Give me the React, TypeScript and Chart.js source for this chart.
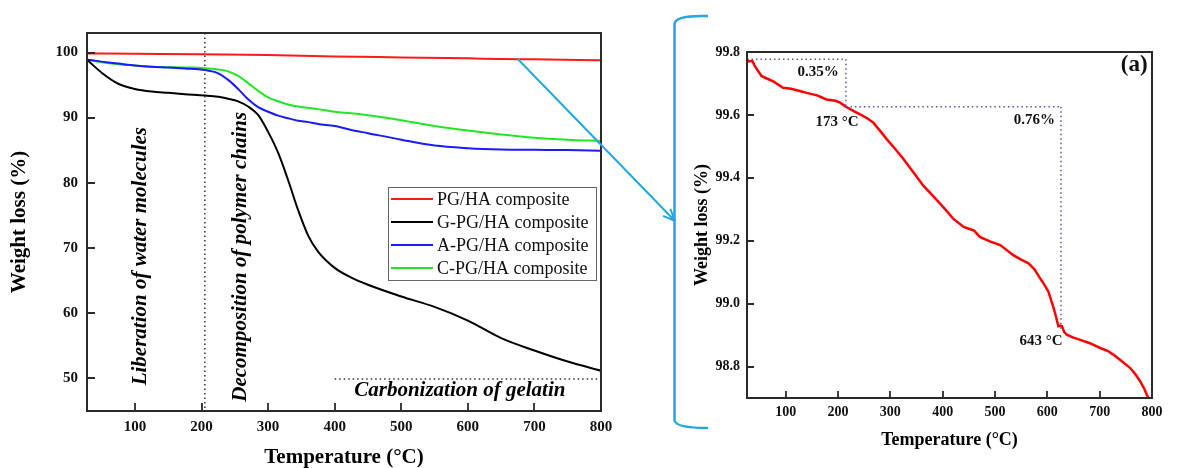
import React, { useEffect, useRef } from "react";
import { Chart, registerables } from "chart.js";
Chart.register(...registerables);

const SERIF = "'Liberation Serif', 'Times New Roman', serif";

// ---------- Left panel data ----------
const tempGrid = [28, 50, 75, 100, 125, 150, 175, 205, 225, 240, 255, 270, 285, 300, 315, 330, 345, 360, 375, 400, 425, 450, 500, 550, 600, 650, 700, 750, 800];
const gPgHa = [98.9, 96.9, 95.2, 94.4, 94.0, 93.8, 93.6, 93.4, 93.2, 92.9, 92.5, 91.7, 90.4, 87.8, 84.6, 80.4, 75.8, 71.9, 69.4, 66.9, 65.4, 64.3, 62.5, 60.9, 58.8, 56.1, 54.2, 52.5, 51.1];
const aPgHa = [98.9, 98.6, 98.3, 98.0, 97.8, 97.7, 97.55, 97.3, 96.8, 95.8, 94.4, 92.8, 91.6, 90.9, 90.3, 89.9, 89.5, 89.3, 89.0, 88.7, 88.1, 87.6, 86.6, 85.7, 85.3, 85.1, 85.05, 85.0, 84.9];
const cPgHa = [98.9, 98.5, 98.2, 98.0, 97.8, 97.75, 97.7, 97.6, 97.4, 97.1, 96.4, 95.3, 94.1, 93.1, 92.5, 92.0, 91.7, 91.5, 91.3, 90.9, 90.65, 90.35, 89.6, 88.7, 88.0, 87.4, 86.9, 86.6, 86.4];
const pgHaTemps = [28, 100, 200, 300, 400, 500, 600, 650, 700, 800];
const pgHa = [99.85, 99.8, 99.75, 99.6, 99.4, 99.25, 99.1, 99.0, 98.97, 98.8];

const leftTicksX = [100, 200, 300, 400, 500, 600, 700, 800];
const leftTicksY = [50, 60, 70, 80, 90, 100];

// ---------- Right panel data (inset a) ----------
const insetTemps = [26, 30, 36, 41, 54, 65, 76, 95, 110, 127, 140, 160, 178, 195, 204, 215, 230, 242, 255, 267, 280, 293, 310, 325, 345, 363, 380, 395, 410, 420, 440, 450, 460, 471, 490, 510, 535, 550, 564, 575, 586, 595, 602, 607, 612, 617, 621, 625, 628, 632, 637, 650, 663, 680, 701, 715, 726, 740, 758, 768, 777, 785, 790, 793];
const insetWeight = [99.775, 99.77, 99.772, 99.755, 99.723, 99.715, 99.707, 99.686, 99.683, 99.676, 99.67, 99.662, 99.649, 99.645, 99.639, 99.626, 99.612, 99.602, 99.59, 99.576, 99.55, 99.523, 99.49, 99.46, 99.415, 99.375, 99.345, 99.318, 99.29, 99.27, 99.244, 99.238, 99.232, 99.212, 99.198, 99.186, 99.154, 99.14, 99.128, 99.11, 99.081, 99.058, 99.038, 99.012, 98.986, 98.955, 98.928, 98.93, 98.928, 98.91, 98.901, 98.892, 98.885, 98.875, 98.859, 98.85, 98.838, 98.82, 98.796, 98.776, 98.754, 98.73, 98.711, 98.7];

const rightTicksX = [100, 200, 300, 400, 500, 600, 700, 800];
const rightTicksY = [98.8, 99.0, 99.2, 99.4, 99.6, 99.8];

const CYAN = "#22a7e0";
const FRAME = "#2a2a2a";
const DOT_BLUE = "#5858a4";

function drawFrameAndTicks(chart: any, tickLen: number) {
  const { ctx, chartArea: a, scales } = chart;
  ctx.save();
  ctx.strokeStyle = FRAME;
  ctx.lineWidth = 2;
  ctx.strokeRect(a.left, a.top, a.right - a.left, a.bottom - a.top);
  ctx.lineWidth = 1.8;
  ctx.beginPath();
  scales.x.ticks.forEach((t: any) => {
    const px = Math.round(scales.x.getPixelForValue(t.value));
    ctx.moveTo(px, a.bottom);
    ctx.lineTo(px, a.bottom - tickLen);
  });
  scales.y.ticks.forEach((t: any) => {
    const py = Math.round(scales.y.getPixelForValue(t.value));
    ctx.moveTo(a.left, py);
    ctx.lineTo(a.left + tickLen, py);
  });
  ctx.stroke();
  ctx.restore();
}

function dotted(ctx: any, x1: number, y1: number, x2: number, y2: number, color: string) {
  ctx.save();
  ctx.strokeStyle = color;
  ctx.lineWidth = 1.5;
  ctx.setLineDash([1.5, 3]);
  ctx.beginPath();
  ctx.moveTo(x1, y1);
  ctx.lineTo(x2, y2);
  ctx.stroke();
  ctx.restore();
}

function rotatedText(ctx: any, text: string, x: number, y: number, font: string) {
  ctx.save();
  ctx.translate(x, y);
  ctx.rotate(-Math.PI / 2);
  ctx.font = font;
  ctx.fillStyle = "#000";
  ctx.textAlign = "center";
  ctx.textBaseline = "middle";
  ctx.fillText(text, 0, 0);
  ctx.restore();
}

const leftDecor = {
  id: "leftDecor",
  afterDraw(chart: any) {
    const { ctx, chartArea: a, scales } = chart;
    const sx = scales.x, sy = scales.y;
    // region separators
    const vx = sx.getPixelForValue(205);
    dotted(ctx, vx, a.top, vx, a.bottom, "#333");
    const hy = sy.getPixelForValue(49.8);
    dotted(ctx, sx.getPixelForValue(400), hy, sx.getPixelForValue(800), hy, "#333");
    drawFrameAndTicks(chart, 8);
    // region labels
    const f = `italic bold 21px ${SERIF}`;
    rotatedText(ctx, "Liberation of water molecules", sx.getPixelForValue(109), sy.getPixelForValue(68.7), f);
    rotatedText(ctx, "Decomposition of polymer chains", sx.getPixelForValue(258), sy.getPixelForValue(68.6), f);
    ctx.save();
    ctx.font = f;
    ctx.fillStyle = "#000";
    ctx.textAlign = "center";
    ctx.textBaseline = "middle";
    ctx.fillText("Carbonization of gelatin", sx.getPixelForValue(588), sy.getPixelForValue(48.0));
    ctx.restore();
    // legend
    const box = { l: 388, t: 187, r: 596, b: 280 };
    ctx.save();
    ctx.fillStyle = "#fff";
    ctx.fillRect(box.l, box.t, box.r - box.l, box.b - box.t);
    ctx.strokeStyle = "#666";
    ctx.lineWidth = 1;
    ctx.strokeRect(box.l + 0.5, box.t + 0.5, box.r - box.l, box.b - box.t);
    ctx.font = `18px ${SERIF}`;
    ctx.textBaseline = "middle";
    ctx.textAlign = "left";
    chart.data.datasets.forEach((ds: any, i: number) => {
      const y = 199 + i * 23;
      ctx.strokeStyle = ds.borderColor;
      ctx.lineWidth = 2;
      ctx.beginPath();
      ctx.moveTo(391, y);
      ctx.lineTo(433, y);
      ctx.stroke();
      ctx.fillStyle = "#111";
      ctx.fillText(ds.label, 437, y + 1);
    });
    ctx.restore();
    // zoom arrow and bracket
    const x0 = sx.getPixelForValue(675), y0 = sy.getPixelForValue(99.0);
    const x1 = 675, y1 = 221;
    ctx.save();
    ctx.strokeStyle = CYAN;
    ctx.lineWidth = 2;
    ctx.beginPath();
    ctx.moveTo(x0, y0);
    ctx.lineTo(x1, y1);
    const ang = Math.atan2(y1 - y0, x1 - x0);
    const L = 13;
    ctx.moveTo(x1, y1);
    ctx.lineTo(x1 - L * Math.cos(ang - 0.4), y1 - L * Math.sin(ang - 0.4));
    ctx.moveTo(x1, y1);
    ctx.lineTo(x1 - L * Math.cos(ang + 0.4), y1 - L * Math.sin(ang + 0.4));
    ctx.stroke();
    ctx.lineWidth = 2.5;
    ctx.beginPath();
    ctx.moveTo(708, 16);
    ctx.quadraticCurveTo(675, 15, 674.5, 24);
    ctx.lineTo(674.5, 420);
    ctx.quadraticCurveTo(675, 428, 708, 428);
    ctx.stroke();
    ctx.restore();
  },
};

const rightDecor = {
  id: "rightDecor",
  afterDraw(chart: any) {
    const { ctx, scales } = chart;
    const sx = scales.x, sy = scales.y;
    const p = (t: number, w: number) => [sx.getPixelForValue(t), sy.getPixelForValue(w)];
    const [ax, ay] = p(26, 99.777);
    const [bx, by] = p(215, 99.626);
    const [cx, cy] = p(626, 98.92);
    dotted(ctx, ax, ay, bx, ay, DOT_BLUE);
    dotted(ctx, bx, ay, bx, by, DOT_BLUE);
    dotted(ctx, bx, by, cx, by, DOT_BLUE);
    dotted(ctx, cx, by, cx, cy, DOT_BLUE);
    drawFrameAndTicks(chart, 7);
    ctx.save();
    ctx.fillStyle = "#111";
    ctx.textAlign = "center";
    ctx.textBaseline = "middle";
    ctx.font = `bold 15px ${SERIF}`;
    const lab = (s: string, t: number, w: number) => {
      const [x, y] = p(t, w);
      ctx.fillText(s, x, y);
    };
    lab("0.35%", 162, 99.737);
    lab("173 °C", 198, 99.576);
    lab("0.76%", 575, 99.582);
    lab("643 °C", 588, 98.881);
    ctx.font = `bold 23px ${SERIF}`;
    lab("(a)", 766, 99.759);
    ctx.restore();
  },
};

export default function App() {
  const leftRef = useRef<HTMLCanvasElement>(null);
  const rightRef = useRef<HTMLCanvasElement>(null);

  useEffect(() => {
    const tickFont = { family: SERIF, size: 15, weight: "bold" as const };
    const line = (label: string, color: string, xs: number[], ys: number[]) => ({
      label,
      data: xs.map((x, i) => ({ x, y: ys[i] })),
      borderColor: color,
      backgroundColor: color,
      borderWidth: 2,
      pointRadius: 0,
      cubicInterpolationMode: "monotone" as const,
      fill: false,
    });
    const noGrid = { display: false, drawTicks: false, tickLength: 0 };

    const left = new Chart(leftRef.current!, {
      type: "line",
      data: {
        datasets: [
          line("PG/HA composite", "#ff1a1a", pgHaTemps, pgHa),
          line("G-PG/HA composite", "#000000", tempGrid, gPgHa),
          line("A-PG/HA composite", "#1a1aff", tempGrid, aPgHa),
          line("C-PG/HA composite", "#22e622", tempGrid, cPgHa),
        ],
      },
      options: {
        responsive: false,
        animation: false,
        events: [],
        layout: { padding: { top: 33, right: 119, bottom: 0, left: 0 } },
        plugins: { legend: { display: false }, tooltip: { enabled: false } },
        scales: {
          x: {
            type: "linear",
            min: 28,
            max: 800,
            grid: noGrid,
            border: { display: false },
            afterBuildTicks: (s: any) => { s.ticks = leftTicksX.map((v) => ({ value: v })); },
            afterFit: (s: any) => { s.height = 57; },
            ticks: { font: tickFont, color: "#111", padding: 7, maxRotation: 0 },
            title: { display: true, text: "Temperature (°C)", color: "#000", font: { family: SERIF, size: 21, weight: "bold", lineHeight: 1 }, padding: { top: 0, bottom: 0 } },
          },
          y: {
            min: 44.9,
            max: 103,
            grid: noGrid,
            border: { display: false },
            afterBuildTicks: (s: any) => { s.ticks = leftTicksY.map((v) => ({ value: v })); },
            afterFit: (s: any) => { s.width = 87; },
            ticks: { font: tickFont, color: "#111", padding: 9 },
            title: { display: true, text: "Weight loss (%)", color: "#000", font: { family: SERIF, size: 21, weight: "bold", lineHeight: 1 }, padding: { top: 9, bottom: 0 } },
          },
        },
      },
      plugins: [leftDecor],
    });

    const rTickFont = { family: SERIF, size: 14, weight: "bold" as const };
    const right = new Chart(rightRef.current!, {
      type: "line",
      data: {
        datasets: [{ ...line("PG/HA composite (a)", "#ff0000", insetTemps, insetWeight), borderWidth: 2.5, cubicInterpolationMode: "default" as any, tension: 0 }],
      },
      options: {
        responsive: false,
        animation: false,
        events: [],
        layout: { padding: { top: 52, right: 36, bottom: 0, left: 0 } },
        plugins: { legend: { display: false }, tooltip: { enabled: false } },
        scales: {
          x: {
            type: "linear",
            min: 26,
            max: 800,
            grid: noGrid,
            border: { display: false },
            afterBuildTicks: (s: any) => { s.ticks = rightTicksX.map((v) => ({ value: v })); },
            afterFit: (s: any) => { s.height = 70; },
            ticks: { font: rTickFont, color: "#111", padding: 6, maxRotation: 0 },
            title: { display: true, text: "Temperature (°C)", color: "#000", font: { family: SERIF, size: 18, weight: "bold", lineHeight: 1 }, padding: { top: 0, bottom: 19 } },
          },
          y: {
            min: 98.7,
            max: 99.8,
            grid: noGrid,
            border: { display: false },
            afterBuildTicks: (s: any) => { s.ticks = rightTicksY.map((v) => ({ value: v })); },
            afterFit: (s: any) => { s.width = 107; },
            ticks: { font: rTickFont, color: "#111", padding: 7, callback: (v: any) => Number(v).toFixed(1) },
            title: { display: true, text: "Weight loss (%)", color: "#000", font: { family: SERIF, size: 18, weight: "bold", lineHeight: 1 }, padding: { top: 53, bottom: 0 } },
          },
        },
      },
      plugins: [rightDecor],
    });

    return () => {
      left.destroy();
      right.destroy();
    };
  }, []);

  return (
    <div style={{ position: "absolute", left: 0, top: 0, width: 1188, height: 468, background: "#fff" }}>
      <canvas ref={rightRef} width={548} height={468} style={{ position: "absolute", left: 640, top: 0 }} />
      <canvas ref={leftRef} width={720} height={468} style={{ position: "absolute", left: 0, top: 0 }} />
    </div>
  );
}
